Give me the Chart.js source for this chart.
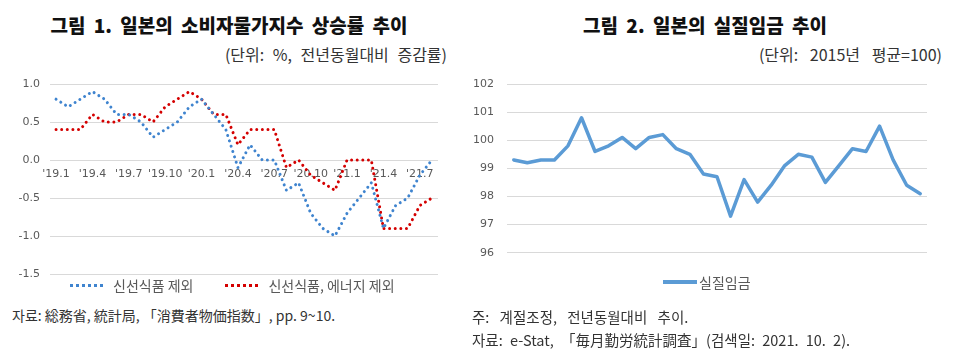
<!DOCTYPE html>
<html>
<head>
<meta charset="utf-8">
<script src="https://cdn.jsdelivr.net/npm/chart.js@4.4.1/dist/chart.umd.min.js"></script>
<style>
  body{margin:0;width:963px;height:352px;background:#fff;position:relative;overflow:hidden;
       font-family:"Noto Sans CJK KR","Noto Sans",sans-serif;color:#222}
  .t{position:absolute;white-space:nowrap}
  .title{font-size:19px;font-weight:900;line-height:20px;top:15px;word-spacing:4px;color:#111}
  .unit{font-size:16px;line-height:18px;top:45px;color:#333;word-spacing:5px}
  .note{font-size:14px;line-height:18px;color:#333}
  canvas{position:absolute;top:0}
  .legend{position:absolute;display:flex;align-items:center;font-size:14px;color:#595959;white-space:nowrap}
  .legend .item{display:flex;align-items:center}
  .legend .smp{display:inline-block;height:0}
</style>
</head>
<body>
<div class="t title" style="left:229px;transform:translateX(-50%)">그림 1. 일본의 소비자물가지수 상승률 추이</div>
<div class="t unit" style="right:516px">(단위: %, 전년동월대비 증감률)</div>
<div class="t title" style="left:705px;transform:translateX(-50%)">그림 2. 일본의 실질임금 추이</div>
<div class="t unit" style="right:21px;word-spacing:8px">(단위: 2015년 평균=100)</div>

<canvas id="c1" width="470" height="300" style="left:0"></canvas>
<canvas id="c2" width="503" height="300" style="left:460px"></canvas>

<div class="legend" id="lg1" style="left:70px;top:275px"></div>
<div class="legend" id="lg2" style="left:663px;top:272px"></div>

<div class="t note" style="left:12px;top:306px">자료: 総務省, 統計局, 「消費者物価指数」, pp. 9~10.</div>
<div class="t note" style="left:472px;top:308px;font-size:14.5px;word-spacing:7px">주: 계절조정, 전년동월대비 추이.</div>
<div class="t note" style="left:472px;top:331px;font-size:14.5px;word-spacing:4px">자료: e-Stat, 「毎月勤労統計調査」(검색일: 2021. 10. 2).</div>

<script>
// 그림 1: 소비자물가지수 상승률 (전년동월대비, %)
var months1 = ["'19.1","'19.2","'19.3","'19.4","'19.5","'19.6","'19.7","'19.8","'19.9","'19.10","'19.11","'19.12",
               "'20.1","'20.2","'20.3","'20.4","'20.5","'20.6","'20.7","'20.8","'20.9","'20.10","'20.11","'20.12",
               "'21.1","'21.2","'21.3","'21.4","'21.5","'21.6","'21.7","'21.8"];
var cpiCore     = [0.8,0.7,0.8,0.9,0.8,0.6,0.6,0.5,0.3,0.4,0.5,0.7,
                   0.8,0.6,0.4,-0.1,0.2,0.0,0.0,-0.4,-0.3,-0.7,-0.9,-1.0,
                   -0.7,-0.5,-0.3,-0.9,-0.6,-0.5,-0.2,0.0];
var cpiCoreCore = [0.4,0.4,0.4,0.6,0.5,0.5,0.6,0.6,0.5,0.7,0.8,0.9,
                   0.8,0.6,0.6,0.2,0.4,0.4,0.4,-0.1,0.0,-0.2,-0.3,-0.4,
                   0.0,0.0,0.0,-0.9,-0.9,-0.9,-0.6,-0.5];

// 그림 2: 실질임금 (2015년 평균=100)
var months2 = months1.slice(0, 31);
var realWage = [99.3,99.2,99.3,99.3,99.8,100.8,99.6,99.8,100.1,99.7,100.1,100.2,
                99.7,99.5,98.8,98.7,97.3,98.6,97.8,98.4,99.1,99.5,99.4,98.5,
                99.1,99.7,99.6,100.5,99.3,98.4,98.1];

var BLUE = '#3f84cf', RED = '#d40000', WAGE = '#5b9bd5';
var GRID = '#d9d9d9', TICK = '#595959';
var tickFont = {family:'DejaVu Sans', size:11};

function everyThird(v, i){ return i % 3 === 0 ? this.getLabelForValue(v) : ''; }

var chart1 = new Chart(document.getElementById('c1'), {
    type: 'line',
    data: {
        labels: months1,
        datasets: [
            {label:'신선식품 제외', data:cpiCore, borderColor:BLUE, borderWidth:3,
             borderDash:[0.01,5.6], borderCapStyle:'round', pointRadius:0, tension:0, fill:false},
            {label:'신선식품, 에너지 제외', data:cpiCoreCore, borderColor:RED, borderWidth:3,
             borderDash:[0.01,5.6], borderCapStyle:'round', pointRadius:0, tension:0, fill:false}
        ]
    },
    options: {
        responsive:false, animation:false,
        layout:{padding:{left:0, top:84, right:32, bottom:26}},
        plugins:{legend:{display:false}, tooltip:{enabled:false}},
        scales:{
            x:{offset:true, position:{y:0}, grid:{display:false}, border:{display:false},
               ticks:{autoSkip:false, maxRotation:0, padding:0, color:TICK, font:tickFont, callback:everyThird},
               afterFit:function(s){ s.height = 0; }},
            y:{min:-1.5, max:1.0, grid:{color:GRID, drawTicks:false}, border:{display:false},
               ticks:{stepSize:0.5, padding:10, color:TICK, font:tickFont,
                      callback:function(v){ return v.toFixed(1); }},
               afterFit:function(s){ s.width = 50; }}
        }
    }
});

var chart2 = new Chart(document.getElementById('c2'), {
    type: 'line',
    data: {
        labels: months2,
        datasets: [
            {label:'실질임금', data:realWage, borderColor:WAGE, borderWidth:3.5,
             borderCapStyle:'round', borderJoinStyle:'round', pointRadius:0, tension:0, fill:false}
        ]
    },
    options: {
        responsive:false, animation:false,
        layout:{padding:{left:0, top:84, right:36, bottom:47.3}},
        plugins:{legend:{display:false}, tooltip:{enabled:false}},
        scales:{
            x:{offset:true, grid:{display:false}, border:{display:false},
               ticks:{autoSkip:false, maxRotation:0, padding:8, color:TICK, font:tickFont, callback:everyThird},
               afterFit:function(s){ s.height = 0; }},
            y:{min:96, max:102, grid:{color:GRID, drawTicks:false}, border:{display:false},
               ticks:{stepSize:1, padding:13, color:TICK, font:tickFont},
               afterFit:function(s){ s.width = 47; }}
        }
    }
});

// html legends built from the datasets
function buildLegend(chart, el, sampleCss, gap){
    chart.data.datasets.forEach(function(ds, i){
        var item = document.createElement('span');
        item.className = 'item';
        if (i > 0) item.style.marginLeft = gap + 'px';
        var smp = document.createElement('span');
        smp.className = 'smp';
        smp.style.cssText = sampleCss.replace(/COLOR/g, ds.borderColor);
        var txt = document.createElement('span');
        txt.textContent = ds.label;
        item.appendChild(smp);
        item.appendChild(txt);
        el.appendChild(item);
    });
}
buildLegend(chart1, document.getElementById('lg1'), 'width:33px;border-top:3px dotted COLOR;margin-right:10px', 32);
buildLegend(chart2, document.getElementById('lg2'), 'width:34px;border-top:4px solid COLOR;margin-right:2px', 0);
</script>
</body>
</html>
